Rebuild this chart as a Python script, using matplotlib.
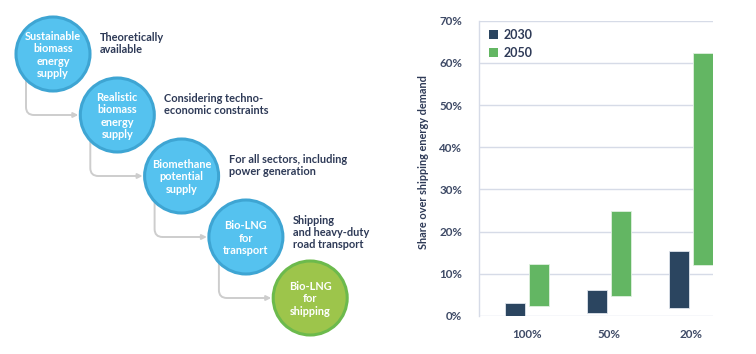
import matplotlib
matplotlib.use("Agg")
import matplotlib.pyplot as plt
from matplotlib.patches import Circle, FancyArrowPatch, Patch
from matplotlib.path import Path
from matplotlib.ticker import FuncFormatter

plt.rcParams['font.family'] = ['Lato', 'DejaVu Sans']

# ---------------- data ----------------
stage_labels = ["Sustainable\nbiomass\nenergy\nsupply",
                "Realistic\nbiomass\nenergy\nsupply",
                "Biomethane\npotential\nsupply",
                "Bio-LNG\nfor\ntransport",
                "Bio-LNG\nfor\nshipping"]
stage_notes = ["Theoretically\navailable",
               "Considering techno-\neconomic constraints",
               "For all sectors, including\npower generation",
               "Shipping\nand heavy-duty\nroad transport",
               ""]

categories = ["100%", "50%", "20%"]
low_2030 = [0.0, 0.6, 1.9]
high_2030 = [3.0, 6.1, 15.5]
low_2050 = [2.4, 4.8, 12.1]
high_2050 = [12.3, 24.9, 62.4]
yticks = [0, 10, 20, 30, 40, 50, 60, 70]
series_names = ["2030", "2050"]

# ---------------- styles ----------------
NAVY = "#2b4560"
GREEN_BAR = "#63b663"
TEXT = "#2e3a57"
TICK = "#3e4a66"
GRID = "#d6dbe7"
BLUE_FILL = "#55c2ef"
BLUE_EDGE = "#3ea5d3"
GREEN_FILL = "#9dc54b"
GREEN_EDGE = "#6cba4c"
ARROW = "#cdcdcd"

W, H = 756, 354
fig = plt.figure(figsize=(W / 100, H / 100), dpi=100)

# ---------------- left diagram (pixel coordinates) ----------------
dax = fig.add_axes([0, 0, 1, 1])
dax.set_xlim(0, W)
dax.set_ylim(H, 0)
dax.axis("off")

x0, y0, dx, dy, r = 53, 54, 64.3, 61, 37
n = len(stage_labels)
centers = [(x0 + i * dx, y0 + i * dy) for i in range(n)]

for i, ((cx, cy), lab) in enumerate(zip(centers, stage_labels)):
    last = i == n - 1
    dax.add_patch(Circle((cx, cy), r, facecolor=GREEN_FILL if last else BLUE_FILL,
                         edgecolor=GREEN_EDGE if last else BLUE_EDGE, lw=2.2, zorder=3))
    dax.text(cx, cy + 1, lab, color="white", fontsize=7.9, fontweight="bold",
             ha="center", va="center", linespacing=1.18, zorder=4)
    if stage_notes[i]:
        dax.text(cx + 47, cy - 22, stage_notes[i], color=TEXT, fontsize=7.9,
                 fontweight="bold", ha="left", va="top", linespacing=1.1, zorder=4)
    if not last:
        nx, ny = centers[i + 1]
        vx = cx - 27
        rc = 8
        verts = [(vx, cy), (vx, ny - rc), (vx, ny), (vx + rc, ny), (nx - r - 2, ny)]
        codes = [Path.MOVETO, Path.LINETO, Path.CURVE3, Path.CURVE3, Path.LINETO]
        arr = FancyArrowPatch(path=Path(verts, codes), arrowstyle="-|>",
                              mutation_scale=7, color=ARROW, lw=1.4, zorder=2)
        dax.add_patch(arr)

# ---------------- right bar chart ----------------
left_px, right_px, bot_px, top_px = 479, 713, 316, 20.7
ax = fig.add_axes([left_px / W, (H - bot_px) / H, (right_px - left_px) / W,
                   (bot_px - top_px) / H])
xpos = list(range(len(categories)))
off, bw = 0.146, 0.244
ax.bar([x - off for x in xpos], [h - l for h, l in zip(high_2030, low_2030)],
       bottom=low_2030, width=bw, color=NAVY, edgecolor="#dfe4ec", lw=0.6,
       zorder=3, label=series_names[0])
ax.bar([x + off for x in xpos], [h - l for h, l in zip(high_2050, low_2050)],
       bottom=low_2050, width=bw, color=GREEN_BAR, edgecolor="#dff0df", lw=0.6,
       zorder=3, label=series_names[1])

ax.set_xlim(-0.585, 2.268)
ax.set_ylim(0, 70)
ax.set_yticks(yticks)
ax.yaxis.set_major_formatter(FuncFormatter(lambda v, p: f"{int(v)}%"))
ax.set_xticks(xpos)
ax.set_xticklabels(categories)
ax.grid(axis="y", color=GRID, lw=1.0, zorder=0)
for s in ["top", "right", "bottom"]:
    ax.spines[s].set_visible(False)
ax.spines["left"].set_color(GRID)
ax.spines["left"].set_linewidth(1.0)
ax.tick_params(axis="both", length=0, colors=TICK, labelsize=8.4)
ax.tick_params(axis="y", pad=12)
ax.tick_params(axis="x", pad=9)
for t in ax.get_xticklabels() + ax.get_yticklabels():
    t.set_fontweight("bold")
ax.set_ylabel("Share over shipping energy demand", color=TEXT, fontsize=7.9,
              fontweight="bold")
ax.yaxis.set_label_coords((429 - left_px) / (right_px - left_px), 0.52)

handles = [Patch(facecolor=NAVY), Patch(facecolor=GREEN_BAR)]
leg = ax.legend(handles, series_names, loc="upper left", frameon=False,
                handlelength=0.7, handleheight=0.7, handletextpad=0.5,
                labelspacing=0.5, prop={"size": 9, "weight": "bold"},
                bbox_to_anchor=(0.0, 1.007), borderaxespad=0.4)
for t in leg.get_texts():
    t.set_color(TEXT)

fig.savefig("out.png", dpi=100, facecolor="white")
